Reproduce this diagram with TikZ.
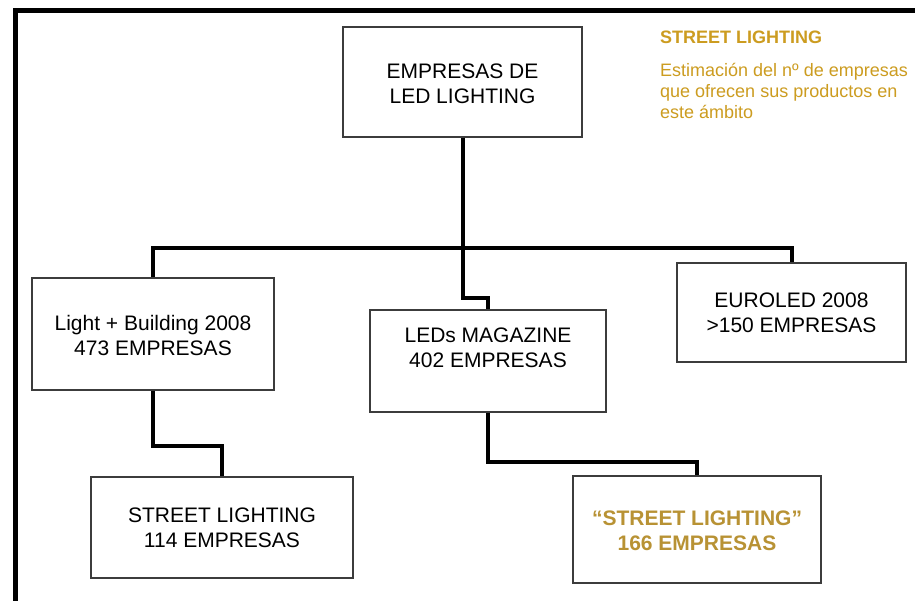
\documentclass[tikz,border=0pt]{standalone}
\usepackage{fontspec}
\setmainfont{Liberation Sans}
\definecolor{goldA}{RGB}{204,156,32}
\definecolor{goldB}{RGB}{184,146,52}
\definecolor{boxline}{RGB}{60,60,60}
\begin{document}
\begin{tikzpicture}[x=1pt,y=-1pt,
  box/.style={draw=boxline,line width=1.1pt,fill=white,align=center,inner sep=0pt},
  btext/.style={align=center,font=\fontsize{21}{25}\selectfont},
  conn/.style={line width=4pt,black},
  frameline/.style={line width=5pt,black}]
\useasboundingbox (0,0) rectangle (915,601);
\fill[white] (0,0) rectangle (915,601);
\draw[frameline] (15.5,601) -- (15.5,10.5) -- (915,10.5);
% junction coordinates
\coordinate (bus) at (462.5,248);
\coordinate (mj) at (462.5,298);
\coordinate (lj) at (153,446);
\coordinate (mj2) at (488,462);
% boxes
\node[box,minimum width=239pt,minimum height=110pt] (top) at (462.5,82) {};
\node[box,minimum width=242pt,minimum height=112pt] (lb) at (153,334) {};
\node[box,minimum width=236pt,minimum height=102pt] (mag) at (488,361) {};
\node[box,minimum width=229pt,minimum height=99pt] (euro) at (791.5,312.5) {};
\node[box,minimum width=262pt,minimum height=101pt] (sl) at (222,527.5) {};
\node[box,minimum width=248pt,minimum height=107pt] (sl2) at (697,529.5) {};
% connectors
\draw[conn] (lb.north) |- (bus) -| (euro.north);
\draw[conn] (top.south) -- (mj) -| (mag.north);
\draw[conn] (lb.south) -- (lj) -| (sl.north);
\draw[conn] (mag.south) -- (mj2) -| (sl2.north);
% texts
\node[btext] (ttop) at (462.5,84) {EMPRESAS DE\\LED LIGHTING};
\node[btext] (tlb) at (153,335) {Light + Building 2008\\473 EMPRESAS};
\node[btext] (tmag) at (488,348) {LEDs MAGAZINE\\402 EMPRESAS};
\node[btext] (teuro) at (791.5,313) {EUROLED 2008\\>150 EMPRESAS};
\node[btext] (tsl) at (222,528) {STREET LIGHTING\\114 EMPRESAS};
\node[btext,font=\fontsize{21}{25}\selectfont\bfseries,text=goldB] (tsl2) at (697,531) {“STREET LIGHTING”\\166 EMPRESAS};
% annotation
\node[anchor=north west,inner sep=0pt,font=\fontsize{18}{21}\selectfont\bfseries,text=goldA] (atitle) at (660,31) {STREET LIGHTING};
\node[anchor=north west,inner sep=0pt,align=left,font=\fontsize{18}{21}\selectfont,text=goldA] (abody) at (660,63) {Estimación del nº de empresas\\que ofrecen sus productos en\\este ámbito};
\end{tikzpicture}
\end{document}
